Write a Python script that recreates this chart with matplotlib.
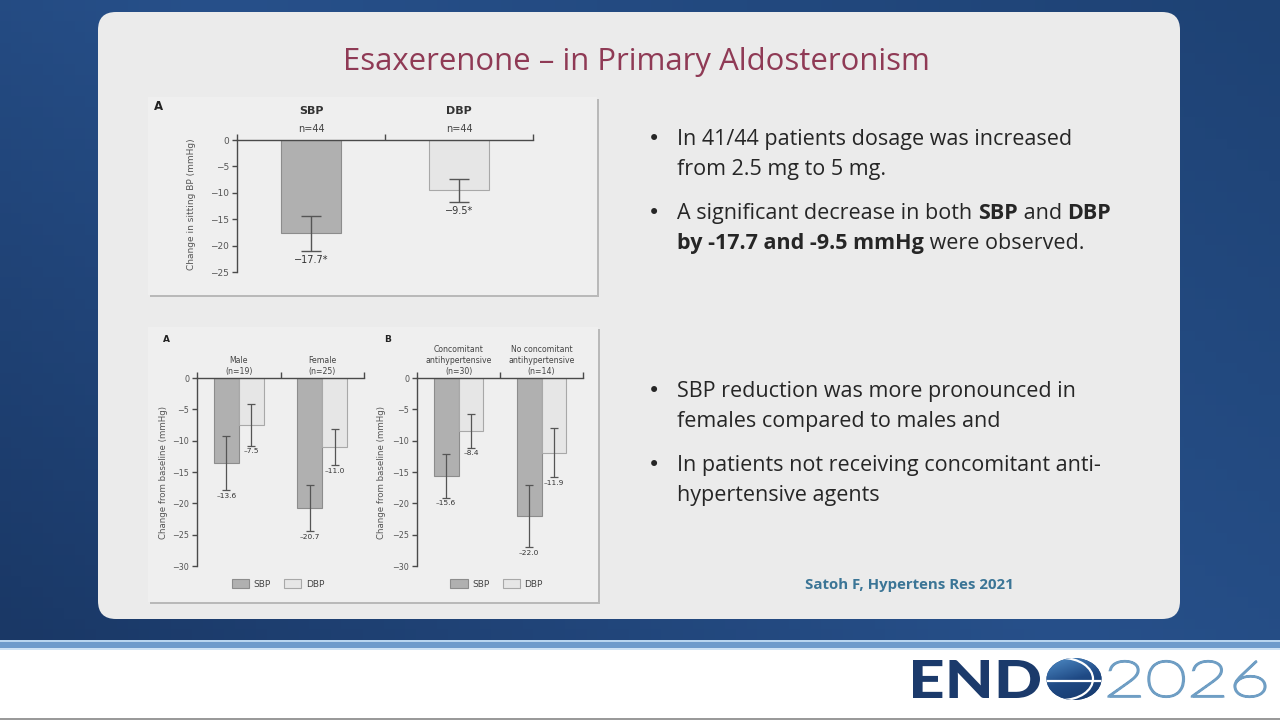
import numpy as np
import matplotlib
matplotlib.use("Agg")
import matplotlib.pyplot as plt
from matplotlib.patches import FancyBboxPatch, Rectangle, Ellipse, PathPatch, Arc
from matplotlib.textpath import TextPath
from matplotlib.font_manager import FontProperties
from matplotlib.transforms import Affine2D
from matplotlib.colors import LinearSegmentedColormap

W, H = 1280, 720
FONT = "Open Sans"      # texto do slide
CFONT = "DejaVu Sans"   # texto dos gráficos

# ---- dados ----
overall_groups = ["SBP", "DBP"]
overall_n = ["n=44", "n=44"]
overall_mean = [-17.7, -9.5]
overall_err = [3.35, 2.2]

sex_groups = ["Male\n(n=19)", "Female\n(n=25)"]
sex_sbp = [-13.6, -20.7]
sex_sbp_err = [4.3, 3.7]
sex_dbp = [-7.5, -11.0]
sex_dbp_err = [3.3, 2.9]

med_groups = ["Concomitant\nantihypertensive\n(n=30)",
              "No concomitant\nantihypertensive\n(n=14)"]
med_sbp = [-15.6, -22.0]
med_sbp_err = [3.5, 5.0]
med_dbp = [-8.4, -11.9]
med_dbp_err = [2.7, 3.9]

title = "Esaxerenone \u2013 in Primary Aldosteronism"
citation = "Satoh F, Hypertens Res 2021"

SBP_C, SBP_E = "#b0b0b0", "#8c8c8c"
DBP_C, DBP_E = "#e6e6e6", "#a8a8a8"
AX_C = "#4a4a4a"
TXT = "#262626"
BSIZE = 15.5

fig = plt.figure(figsize=(12.8, 7.2), dpi=100)
bg = fig.add_axes([0, 0, 1, 1])
bg.set_xlim(0, W)
bg.set_ylim(H, 0)
bg.axis("off")


def px_axes(x0, y0, x1, y1):
    return fig.add_axes([x0 / W, 1 - y1 / H, (x1 - x0) / W, (y1 - y0) / H])


# fundo azul
cmap = LinearSegmentedColormap.from_list("bgblue", ["#1a3866", "#27508a", "#1e4274"])
yy, xx = np.mgrid[0:1:60j, 0:1:120j]
bg.imshow(0.6 * xx + 0.4 * (1 - yy), extent=(0, W, 640, 0), cmap=cmap, aspect="auto", zorder=0)
bg.add_patch(Rectangle((0, 640), W, 2, color="#b9d5ef", lw=0, zorder=1))
bg.add_patch(Rectangle((0, 642), W, 6, color="#6f9bcb", lw=0, zorder=1))
bg.add_patch(Rectangle((0, 648), W, 2, color="#cfe2f4", lw=0, zorder=1))
bg.add_patch(Rectangle((0, 650), W, 68, color="white", lw=0, zorder=1))
bg.add_patch(Rectangle((0, 718), W, 2, color="#9a9a9a", lw=0, zorder=1))

# cartão cinza
bg.add_patch(FancyBboxPatch((98, 12), 1082, 607, boxstyle="round,pad=0,rounding_size=18",
                            fc="#ebebeb", ec="none", zorder=2))

# painéis das figuras (com sombra)
for (x0, y0, x1, y1) in [(148, 97, 597, 295), (148, 327, 598, 602)]:
    bg.add_patch(Rectangle((x0 + 2, y0 + 2), x1 - x0, y1 - y0, fc="#b9b9b9", ec="none", zorder=3))
    bg.add_patch(Rectangle((x0, y0), x1 - x0, y1 - y0, fc="#efefef", ec="none", zorder=4))

bg.text(636, 70, title, fontsize=22.4, family=FONT, color="#8f3a55", ha="center", va="baseline", zorder=5)
bg.text(805, 589, citation, fontsize=10.85, family=FONT, fontweight="bold", color="#3b7596",
        va="baseline", zorder=5)

# textos com partes em negrito
renderer = fig.canvas.get_renderer()


def runs(x, y, parts, size=BSIZE):
    for txt, bold in parts:
        t = bg.text(x, y, txt, fontsize=size, family=FONT, fontweight="bold" if bold else "normal",
                    color=TXT, va="baseline", zorder=5)
        x += t.get_window_extent(renderer).width


bullets = [
    (145, [[("In 41/44 patients dosage was increased", False)], [("from 2.5 mg to 5 mg.", False)]]),
    (219, [[("A significant decrease in both ", False), ("SBP", True), (" and ", False), ("DBP", True)],
           [("by -17.7 and -9.5 mmHg", True), (" were observed.", False)]]),
    (397, [[("SBP reduction was more pronounced in", False)], [("females compared to males and", False)]]),
    (471, [[("In patients not receiving concomitant anti-", False)], [("hypertensive agents", False)]]),
]
for y, lines in bullets:
    bg.text(654, y - 5.5, "\u2022", fontsize=15, family="DejaVu Sans", color=TXT, ha="center",
            va="center", zorder=5)
    for i, parts in enumerate(lines):
        runs(677, y + 30 * i, parts)


def style_axes(ax, ymin, step, tick_fs):
    ax.set_facecolor("none")
    ax.set_xlim(0, 2)
    ax.set_ylim(ymin, 0)
    for s in ["bottom", "right"]:
        ax.spines[s].set_visible(False)
    for s in ["top", "left"]:
        ax.spines[s].set_color(AX_C)
        ax.spines[s].set_linewidth(1)
    ax.xaxis.tick_top()
    ax.set_xticks([0, 1, 2])
    ax.set_xticklabels([])
    ax.set_yticks(np.arange(ymin, 1, step))
    ax.tick_params(axis="x", length=4, width=1, color=AX_C)
    ax.tick_params(axis="y", length=3.5, width=1, color=AX_C, labelsize=tick_fs, labelcolor="#555555", pad=2)
    for lab in ax.get_yticklabels():
        lab.set_family(CFONT)


# gráfico de cima
ax = px_axes(237, 140, 533, 272)
style_axes(ax, -25, 5, 6.5)
xs = [0.5, 1.5]
ax.bar(xs, overall_mean, width=0.405, color=[SBP_C, DBP_C], edgecolor=[SBP_E, DBP_E], lw=0.8)
ax.errorbar(xs, overall_mean, yerr=overall_err, fmt="none", ecolor="#555555", elinewidth=1, capsize=7, capthick=1)
for x, m, e, g, n in zip(xs, overall_mean, overall_err, overall_groups, overall_n):
    ax.annotate(f"{m:.1f}*".replace("-", "\u2212"), (x, m - e), xytext=(0, -3), textcoords="offset points",
                ha="center", va="top", fontsize=7, family=CFONT, color="#333333")
    ax.text(x, 1.22, g, transform=ax.get_xaxis_transform(), ha="center", va="center",
            fontsize=8, fontweight="bold", family=CFONT, color="#333333")
    ax.text(x, 1.083, n, transform=ax.get_xaxis_transform(), ha="center", va="center",
            fontsize=7, family=CFONT, color="#444444")
ax.set_ylabel("Change in sitting BP (mmHg)", fontsize=6.5, family=CFONT, color="#555555")
ax.yaxis.set_label_coords(-0.139, 0.51)
bg.text(159, 107, "A", fontsize=8.5, fontweight="bold", family=CFONT, color="#222222", ha="center", va="center", zorder=5)


# gráficos de baixo
def grouped(ax, groups, sbp, sbp_err, dbp, dbp_err, leg_x):
    style_axes(ax, -30, 5, 5.8)
    c = np.array([0.5, 1.5])
    b1 = ax.bar(c - 0.15, sbp, width=0.3, color=SBP_C, edgecolor=SBP_E, lw=0.8, label="SBP")
    b2 = ax.bar(c + 0.15, dbp, width=0.3, color=DBP_C, edgecolor=DBP_E, lw=0.8, label="DBP")
    ax.errorbar(c - 0.15, sbp, yerr=sbp_err, fmt="none", ecolor="#555555", elinewidth=0.9, capsize=3, capthick=0.9)
    ax.errorbar(c + 0.15, dbp, yerr=dbp_err, fmt="none", ecolor="#555555", elinewidth=0.9, capsize=3, capthick=0.9)
    for xs_, vals, errs in [(c - 0.15, sbp, sbp_err), (c + 0.15, dbp, dbp_err)]:
        for x, m, e in zip(xs_, vals, errs):
            ax.annotate(f"{m:.1f}".replace("-", "\u2013"), (x, m - e), xytext=(0, -2), textcoords="offset points",
                        ha="center", va="top", fontsize=5.3, family=CFONT, color="#333333")
    for x, g in zip(c, groups):
        ax.text(x, 1.012, g, transform=ax.get_xaxis_transform(), ha="center", va="bottom",
                fontsize=5.6, family=CFONT, color="#444444", linespacing=1.3)
    ax.set_ylabel("Change from baseline (mmHg)", fontsize=6.2, family=CFONT, color="#555555")
    ax.legend(handles=[b1, b2], loc="center", bbox_to_anchor=(leg_x, -0.096), ncol=2, frameon=False,
              prop={"family": CFONT, "size": 6.5}, handlelength=1.9, handleheight=1.2,
              handletextpad=0.5, columnspacing=1.5, labelcolor="#444444")


axL = px_axes(197, 378, 364, 566)
grouped(axL, sex_groups, sex_sbp, sex_sbp_err, sex_dbp, sex_dbp_err, 0.485)
axL.yaxis.set_label_coords(-0.174, 0.495)
axR = px_axes(417, 378, 583, 566)
grouped(axR, med_groups, med_sbp, med_sbp_err, med_dbp, med_dbp_err, 0.48)
axR.yaxis.set_label_coords(-0.187, 0.495)
bg.text(166, 340, "A", fontsize=6.5, fontweight="bold", family=CFONT, color="#222222", ha="center", va="center", zorder=5)
bg.text(388, 339, "B", fontsize=6.5, fontweight="bold", family=CFONT, color="#222222", ha="center", va="center", zorder=5)


# logotipo ENDO 2026
def fit_text(s, x0, y0, x1, y1, prop, color, lw=0):
    tp = TextPath((0, 0), s, size=100, prop=prop)
    bb = tp.get_extents()
    tr = Affine2D().translate(-bb.x0, -bb.y0).scale((x1 - x0) / bb.width, -(y1 - y0) / bb.height).translate(x0, y1)
    bg.add_patch(PathPatch(tr.transform_path(tp), fc=color, ec=color, lw=lw, zorder=6))


fit_text("END", 913, 660, 1040, 698, FontProperties(family="Lato", weight="black"), "#1b3a6b")
fit_text("2026", 1108.5, 661, 1265.5, 697, FontProperties(family="Lato", weight="light"), "#6f9ec4", lw=1.6)
globe = Ellipse((1074, 679), 55, 42, fc="#1d4278", ec="none", zorder=6)
bg.add_patch(globe)
gcmap = LinearSegmentedColormap.from_list("globe", ["#4f8cc6", "#1f4a85", "#16386a"])
gy, gx = np.mgrid[0:1:40j, 0:1:40j]
gim = bg.imshow(0.7 * gy + 0.3 * gx, extent=(1046, 1102, 700, 658), cmap=gcmap, aspect="auto", zorder=7)
gim.set_clip_path(globe)
ln = bg.plot([1046, 1102], [681, 681], color="white", lw=1.6, zorder=8)[0]
ln.set_clip_path(globe)
arc = Arc((1062, 679), 62, 42, theta1=-90, theta2=90, color="white", lw=1.6, zorder=8)
bg.add_patch(arc)
arc.set_clip_path(globe)

fig.savefig("out.png", dpi=100)
